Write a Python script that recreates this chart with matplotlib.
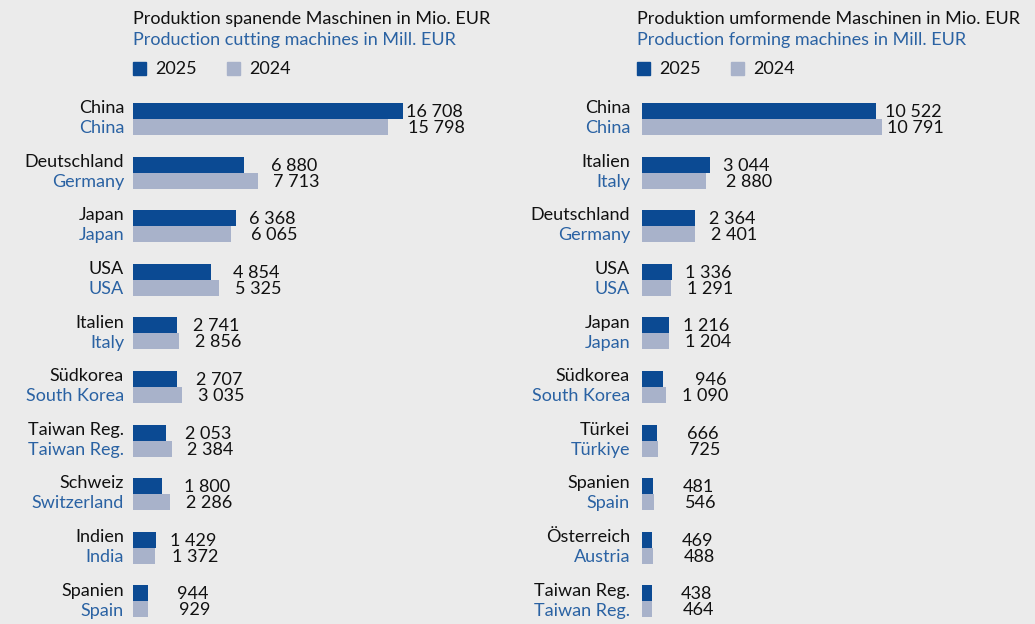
import matplotlib.pyplot as plt
from matplotlib.patches import Rectangle

# data
cut_de = ["China", "Deutschland", "Japan", "USA", "Italien", "Südkorea",
          "Taiwan Reg.", "Schweiz", "Indien", "Spanien"]
cut_en = ["China", "Germany", "Japan", "USA", "Italy", "South Korea",
          "Taiwan Reg.", "Switzerland", "India", "Spain"]
cut_2025 = [16708, 6880, 6368, 4854, 2741, 2707, 2053, 1800, 1429, 944]
cut_2024 = [15798, 7713, 6065, 5325, 2856, 3035, 2384, 2286, 1372, 929]

form_de = ["China", "Italien", "Deutschland", "USA", "Japan", "Südkorea",
           "Türkei", "Spanien", "Österreich", "Taiwan Reg."]
form_en = ["China", "Italy", "Germany", "USA", "Japan", "South Korea",
           "Türkiye", "Spain", "Austria", "Taiwan Reg."]
form_2025 = [10522, 3044, 2364, 1336, 1216, 946, 666, 481, 469, 438]
form_2024 = [10791, 2880, 2401, 1291, 1204, 1090, 725, 546, 488, 464]

titles_de = ["Produktion spanende Maschinen in Mio. EUR",
             "Produktion umformende Maschinen in Mio. EUR"]
titles_en = ["Production cutting machines in Mill. EUR",
             "Production forming machines in Mill. EUR"]

BG = "#ebebeb"
DARK = "#0b4a93"
LIGHT = "#a8b2ca"
BLUE_TXT = "#2a62a3"
FS = 13

plt.rcParams['font.family'] = ['Lato', 'DejaVu Sans']

W, H = 1035, 624
fig = plt.figure(figsize=(W / 100, H / 100), dpi=100)
fig.patch.set_facecolor(BG)


def fmt(v):
    return f"{v:,}".replace(",", " ")


def panel(x0, x1, tx, lab_off, scale, de, en, v25, v24, t_de, t_en):
    top, bot = 90, 624
    ax = fig.add_axes([x0 / W, 1 - bot / H, (x1 - x0) / W, (bot - top) / H])
    ax.set_facecolor(BG)
    row0, step = 119, 53.6
    ax.set_ylim((bot - row0) / step, (top - row0) / step)
    ax.set_xlim(0, (x1 - x0) / scale)
    ax.axis('off')
    ys = list(range(len(de)))
    h = 0.30
    ax.barh([y - h / 2 for y in ys], v25, height=h, color=DARK)
    ax.barh([y + h / 2 for y in ys], v24, height=h, color=LIGHT)
    for y, a, b, g, e in zip(ys, v25, v24, de, en):
        m = max(a, b)
        ax.annotate(fmt(a), xy=(m, y - h / 2), xytext=(60, -1),
                    textcoords='offset pixels', ha='right', va='center',
                    fontsize=FS, color='#111111')
        ax.annotate(fmt(b), xy=(m, y + h / 2), xytext=(62, -1),
                    textcoords='offset pixels', ha='right', va='center',
                    fontsize=FS, color='#111111')
        ax.annotate(g, xy=(0, y - h / 2 - 0.05),
                    xytext=(lab_off, 0), textcoords='offset pixels', ha='right',
                    va='center', fontsize=FS, color='#111111')
        ax.annotate(e, xy=(0, y + h / 2 + 0.02),
                    xytext=(lab_off, 0), textcoords='offset pixels', ha='right',
                    va='center', fontsize=FS, color=BLUE_TXT)
    # titles and legend
    fig.text(tx / W, 1 - 19 / H, t_de, fontsize=FS, color='#111111',
             ha='left', va='center')
    fig.text(tx / W, 1 - 40 / H, t_en, fontsize=FS, color=BLUE_TXT,
             ha='left', va='center')
    for dx, col, lab in [(0, DARK, "2025"), (94, LIGHT, "2024")]:
        fig.patches.append(Rectangle(((tx + dx) / W, 1 - 75 / H), 13 / W, 13 / H,
                                     transform=fig.transFigure, color=col))
        fig.text((tx + dx + 22) / W, 1 - 69 / H, lab, fontsize=FS,
                 color='#111111', ha='left', va='center')


panel(133, 520, 133, -9, 270 / 16708, cut_de, cut_en, cut_2025, cut_2024,
      titles_de[0], titles_en[0])
panel(642, 1035, 637, -12, 240 / 10791, form_de, form_en, form_2025, form_2024,
      titles_de[1], titles_en[1])

fig.savefig("out.png", dpi=100, facecolor=BG)
